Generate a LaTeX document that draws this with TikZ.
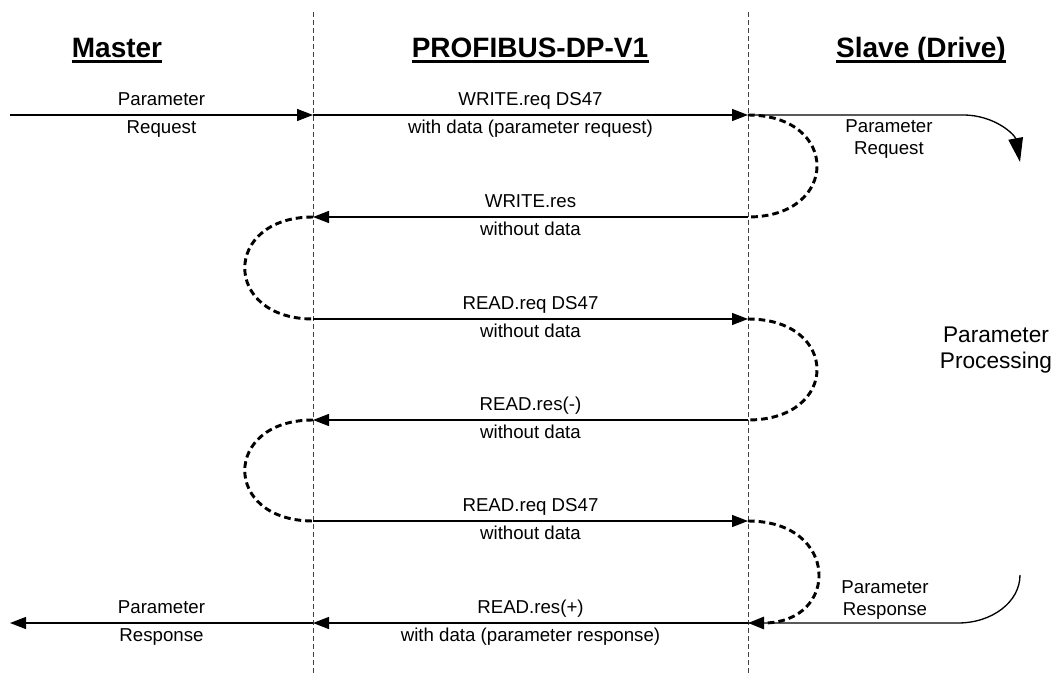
\documentclass[tikz,border=0pt]{standalone}
\usepackage{fontspec}
\setmainfont{Liberation Sans}
\usetikzlibrary{arrows.meta}

\tikzset{
  msg/.style={line width=1pt, -{Triangle[length=12pt, width=9pt]}},
  loopback/.style={line width=2.2pt, dash pattern=on 5pt off 3pt},
  lifeline/.style={line width=0.6pt, dash pattern=on 4pt off 2pt, black!75},
  lbl/.style={font=\fontsize{14}{16.5}\selectfont, inner sep=3.2pt,
    text height=10.5pt, text depth=3.5pt},
  side/.style={font=\fontsize{14}{16.5}\selectfont, inner sep=0pt,
    align=center, anchor=north},
  hdg/.style={font=\fontsize{21}{25}\selectfont\bfseries, inner sep=0pt, anchor=base},
}

\begin{document}
\begin{tikzpicture}[x=0.75pt, y=-0.75pt]
  \useasboundingbox (0,0) rectangle (1056,684);

  % Ueberschriften
  \node[hdg] (hmaster) at (117,58) {Master};
  \node[hdg] (hbus) at (530,58) {PROFIBUS-DP-V1};
  \node[hdg] (hslave) at (921,58) {Slave (Drive)};
  \foreach \h in {hmaster,hbus,hslave}
    \draw[line width=1.7pt] ([yshift=-2.6pt]\h.base west) -- ([yshift=-2.6pt]\h.base east);

  % Lebenslinien
  \foreach \x/\n in {313/bus,748/slave} {
    \coordinate (\n top) at (\x,12);
    \coordinate (\n bot) at (\x,676);
    \draw[lifeline] (\n top) -- (\n bot);
  }

  % Zeilen: Master, Bus, Slave
  \foreach \i/\y in {1/115,2/217,3/319,4/420,5/521,6/623} {
    \coordinate (M\i) at (10,\y);
    \coordinate (B\i) at (313,\y);
    \coordinate (S\i) at (748,\y);
  }

  % Telegramme
  \draw[msg] (M1) -- (B1) node[lbl, midway, above] (l1a) {Parameter}
                          node[lbl, midway, below] (l1b) {Request};
  \draw[msg] (B1) -- (S1) node[lbl, midway, above] (t1a) {WRITE.req DS47}
                          node[lbl, midway, below] (t1b) {with data (parameter request)};
  \draw[msg] (S2) -- (B2) node[lbl, midway, above] (t2a) {WRITE.res}
                          node[lbl, midway, below] (t2b) {without data};
  \draw[msg] (B3) -- (S3) node[lbl, midway, above] (t3a) {READ.req DS47}
                          node[lbl, midway, below] (t3b) {without data};
  \draw[msg] (S4) -- (B4) node[lbl, midway, above] (t4a) {READ.res(-)}
                          node[lbl, midway, below] (t4b) {without data};
  \draw[msg] (B5) -- (S5) node[lbl, midway, above] (t5a) {READ.req DS47}
                          node[lbl, midway, below] (t5b) {without data};
  \draw[msg] (S6) -- (B6) node[lbl, midway, above] (t6a) {READ.res(+)}
                          node[lbl, midway, below] (t6b) {with data (parameter response)};
  \draw[msg] (B6) -- (M6) node[lbl, midway, above] (l6a) {Parameter}
                          node[lbl, midway, below] (l6b) {Response};

  % Warteschleifen
  \foreach \a/\b in {S1/S2,S3/S4}
    \draw[loopback] (\a) .. controls +(92,0) and +(92,0) .. (\b);
  \foreach \a/\b in {B2/B3,B4/B5}
    \draw[loopback] (\a) .. controls +(-91,0) and +(-91,0) .. (\b);
  \draw[loopback, -{Triangle[length=12pt, width=9pt]}]
    (S5) .. controls +(92,0) and +(92,0) .. (S6);

  % Slave-Seite
  \coordinate (reqEnd) at (1020,162);
  \coordinate (rspStart) at (1020,575);
  \draw[line width=1pt, -{Triangle[length=18pt, width=11pt]}]
    (S1) -- ++(215,0) .. controls +(32,0) and +(-5,-27) .. (reqEnd);
  \draw[line width=1pt]
    (rspStart) .. controls +(0,27) and +(34,0) .. ++(-62,48) -- (S6);
  \node[side] (preq) at (889,119.5) {Parameter\\Request};
  \node[side] (prsp) at (885,580.5) {Parameter\\Response};
  \node[font=\fontsize{17}{19}\selectfont, align=center, inner sep=0pt]
    (proc) at (996,350) {Parameter\\Processing};
\end{tikzpicture}
\end{document}
